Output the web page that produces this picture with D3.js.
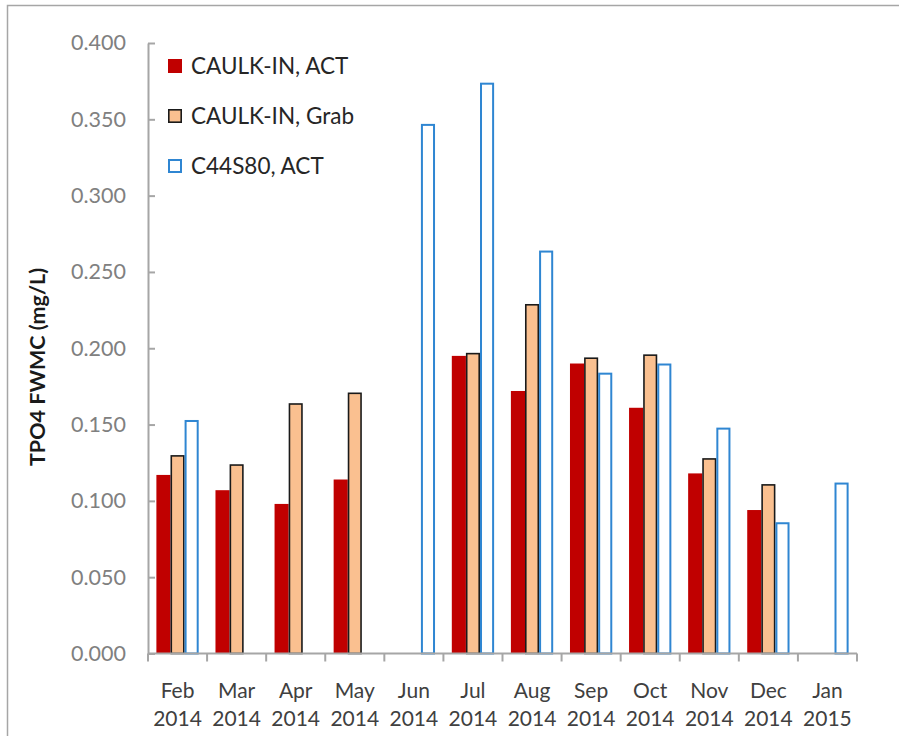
<!DOCTYPE html>
<html>
<head>
<meta charset="utf-8">
<script src="https://cdn.jsdelivr.net/npm/d3@7/dist/d3.min.js"></script>
<style>
  html, body { margin: 0; padding: 0; background: #fff; }
  svg { display: block; }
</style>
</head>
<body>
<svg id="chart" width="899" height="736"></svg>
<script>
const months = ["Feb", "Mar", "Apr", "May", "Jun", "Jul", "Aug", "Sep", "Oct", "Nov", "Dec", "Jan"];
const years  = ["2014", "2014", "2014", "2014", "2014", "2014", "2014", "2014", "2014", "2014", "2014", "2015"];
const seriesNames = ["CAULK-IN, ACT", "CAULK-IN, Grab", "C44S80, ACT"];
const caulkAct  = [0.117, 0.107, 0.098, 0.114, null, 0.195, 0.172, 0.190, 0.161, 0.118, 0.094, null];
const caulkGrab = [0.130, 0.124, 0.164, 0.171, null, 0.197, 0.229, 0.194, 0.196, 0.128, 0.111, null];
const c44Act    = [0.153, null, null, null, 0.347, 0.374, 0.264, 0.184, 0.190, 0.148, 0.086, 0.112];
const yTicks = [0, 0.05, 0.10, 0.15, 0.20, 0.25, 0.30, 0.35, 0.40];

const seriesValues = [caulkAct, caulkGrab, c44Act];
const styles = [
  { fill: "#C00000", stroke: "none", sw: 0 },
  { fill: "#FAC090", stroke: "#1a1a1a", sw: 1.6 },
  { fill: "#ffffff", stroke: "#2F86D2", sw: 2 }
];

const svg = d3.select("#chart");
const plotL = 148, plotR = 857, plotT = 43, plotB = 653.5;

// outer border
svg.append("rect").attr("x", 7.5).attr("y", 5.5).attr("width", 900).attr("height", 740)
  .attr("fill", "none").attr("stroke", "#a6a6a6").attr("stroke-width", 1.5);

const y = d3.scaleLinear().domain([0, 0.4]).range([plotB, plotT]);
const x0 = d3.scaleBand().domain(d3.range(months.length)).range([plotL, plotR])
  .paddingInner(0.284).paddingOuter(0.142);
const x1 = d3.scaleBand().domain(d3.range(3)).range([0, x0.bandwidth()]);

// bars
const groups = svg.append("g").selectAll("g").data(d3.range(months.length)).join("g")
  .attr("transform", i => `translate(${x0(i)},0)`);
seriesValues.forEach((vals, s) => {
  groups.filter(i => vals[i] != null).append("rect")
    .attr("x", i => x1(s) + styles[s].sw / 2)
    .attr("width", x1.bandwidth() - styles[s].sw)
    .attr("y", i => y(vals[i]) + styles[s].sw / 2)
    .attr("height", i => Math.max(0, y(0) - y(vals[i]) - styles[s].sw / 2))
    .attr("fill", styles[s].fill)
    .attr("stroke", styles[s].stroke)
    .attr("stroke-width", styles[s].sw);
});

// y axis
const yAxis = d3.axisLeft(y).tickValues(yTicks).tickFormat(d3.format(".3f"))
  .tickSizeInner(-7).tickSizeOuter(0).tickPadding(22);
const yg = svg.append("g").attr("transform", `translate(${plotL},0)`).call(yAxis);
yg.select(".domain").attr("stroke", "#a6a6a6").attr("stroke-width", 2);
yg.selectAll(".tick line").attr("stroke", "#a6a6a6").attr("stroke-width", 2);
yg.selectAll(".tick text").attr("fill", "#808080")
  .style("font-family", "Lato, 'Open Sans', sans-serif").style("font-size", "21.5px");

// x axis
const xTickScale = d3.scaleLinear().domain([0, months.length]).range([plotL, plotR]);
const xg = svg.append("g").attr("transform", `translate(0,${plotB})`);
xg.append("line").attr("x1", plotL).attr("x2", plotR).attr("y1", 0).attr("y2", 0)
  .attr("stroke", "#a6a6a6").attr("stroke-width", 2);
xg.selectAll("line.tk").data(d3.range(months.length + 1)).join("line").attr("class", "tk")
  .attr("x1", d => xTickScale(d)).attr("x2", d => xTickScale(d))
  .attr("y1", 0).attr("y2", 8).attr("stroke", "#a6a6a6").attr("stroke-width", 2);
const lab = xg.selectAll("text.cat").data(d3.range(months.length)).join("text").attr("class", "cat")
  .attr("x", i => x0(i) + x0.bandwidth() / 2)
  .attr("text-anchor", "middle").attr("fill", "#404040")
  .style("font-family", "Lato, 'Open Sans', sans-serif").style("font-size", "21px");
lab.append("tspan").attr("x", i => x0(i) + x0.bandwidth() / 2).attr("y", 44).text(i => months[i]);
lab.append("tspan").attr("x", i => x0(i) + x0.bandwidth() / 2).attr("y", 72).text(i => years[i]);

// y title
svg.append("text").attr("transform", "translate(45,367) rotate(-90)")
  .attr("text-anchor", "middle").attr("fill", "#1a1a1a")
  .style("font-family", "Lato, 'Open Sans', sans-serif").style("font-size", "21.5px")
  .style("font-weight", "bold").text("TPO4 FWMC (mg/L)");

// legend
const leg = svg.append("g");
seriesNames.forEach((name, s) => {
  const cy = 66 + s * 50;
  const sw = styles[s].sw;
  leg.append("rect").attr("x", 168 + sw / 2).attr("y", cy - 7 + sw / 2)
    .attr("width", 14 - sw).attr("height", 14 - sw)
    .attr("fill", styles[s].fill).attr("stroke", styles[s].stroke).attr("stroke-width", sw);
  leg.append("text").attr("x", 191).attr("y", cy).attr("dy", "0.35em")
    .attr("fill", "#262626")
    .style("font-family", "Lato, 'Open Sans', sans-serif").style("font-size", "22.5px")
    .text(name);
});
</script>
</body>
</html>
